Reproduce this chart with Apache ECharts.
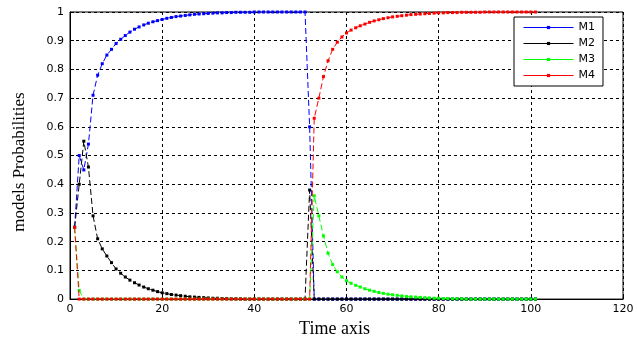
<!DOCTYPE html>
<html>
<head>
<meta charset="utf-8">
<script src="https://cdn.jsdelivr.net/npm/echarts@6/dist/echarts.min.js"></script>
<style>html,body{margin:0;padding:0;background:#fff;}#c{width:637px;height:343px;}</style>
</head>
<body>
<div id="c"></div>
<script>
var startTime = 1;
var xTicks = [0, 20, 40, 60, 80, 100, 120];
var yTicks = [0, 0.1, 0.2, 0.3, 0.4, 0.5, 0.6, 0.7, 0.8, 0.9, 1];
var seriesNames = ['M1', 'M2', 'M3', 'M4'];

var m1 = [0.25, 0.50, 0.45, 0.54, 0.71, 0.78, 0.82, 0.85, 0.87, 0.89,
  0.905, 0.918, 0.93, 0.94, 0.948, 0.955, 0.961, 0.966, 0.97, 0.974,
  0.978, 0.981, 0.984, 0.986, 0.988, 0.99, 0.992, 0.993, 0.994, 0.995,
  0.996, 0.997, 0.997, 0.998, 0.998, 0.999, 0.999, 0.999, 0.999, 1,
  1, 1, 1, 1, 1, 1, 1, 1, 1, 1,
  1, 0.6, 0, 0, 0, 0, 0, 0, 0, 0,
  0, 0, 0, 0, 0, 0, 0, 0, 0, 0,
  0, 0, 0, 0, 0, 0, 0, 0, 0, 0,
  0, 0, 0, 0, 0, 0, 0, 0, 0, 0,
  0, 0, 0, 0, 0, 0, 0, 0, 0, 0, 0];

var m2 = [0.25, 0.40, 0.55, 0.46, 0.29, 0.21, 0.175, 0.15, 0.127, 0.105,
  0.09, 0.077, 0.066, 0.057, 0.049, 0.042, 0.036, 0.031, 0.026, 0.022,
  0.019, 0.016, 0.014, 0.012, 0.01, 0.008, 0.007, 0.006, 0.005, 0.004,
  0.003, 0.003, 0.002, 0.002, 0.001, 0.001, 0.001, 0, 0, 0,
  0, 0, 0, 0, 0, 0, 0, 0, 0, 0,
  0, 0.38, 0, 0, 0, 0, 0, 0, 0, 0,
  0, 0, 0, 0, 0, 0, 0, 0, 0, 0,
  0, 0, 0, 0, 0, 0, 0, 0, 0, 0,
  0, 0, 0, 0, 0, 0, 0, 0, 0, 0,
  0, 0, 0, 0, 0, 0, 0, 0, 0, 0, 0];

var m3 = [0.25, 0.03, 0, 0, 0, 0, 0, 0, 0, 0,
  0, 0, 0, 0, 0, 0, 0, 0, 0, 0,
  0, 0, 0, 0, 0, 0, 0, 0, 0, 0,
  0, 0, 0, 0, 0, 0, 0, 0, 0, 0,
  0, 0, 0, 0, 0, 0, 0, 0, 0, 0,
  0, 0, 0.36, 0.29, 0.22, 0.16, 0.12, 0.095, 0.077, 0.064,
  0.055, 0.048, 0.042, 0.036, 0.031, 0.027, 0.023, 0.02, 0.017, 0.015,
  0.013, 0.011, 0.009, 0.008, 0.007, 0.006, 0.005, 0.004, 0.003, 0.003,
  0.002, 0.002, 0.001, 0.001, 0.001, 0, 0, 0, 0, 0,
  0, 0, 0, 0, 0, 0, 0, 0, 0, 0, 0];

var m4 = [0.25, 0, 0, 0, 0, 0, 0, 0, 0, 0,
  0, 0, 0, 0, 0, 0, 0, 0, 0, 0,
  0, 0, 0, 0, 0, 0, 0, 0, 0, 0,
  0, 0, 0, 0, 0, 0, 0, 0, 0, 0,
  0, 0, 0, 0, 0, 0, 0, 0, 0, 0,
  0, 0, 0.63, 0.70, 0.775, 0.83, 0.87, 0.895, 0.913, 0.927,
  0.937, 0.945, 0.952, 0.958, 0.964, 0.969, 0.973, 0.977, 0.98, 0.983,
  0.985, 0.987, 0.989, 0.991, 0.992, 0.993, 0.994, 0.995, 0.996, 0.997,
  0.997, 0.998, 0.998, 0.998, 0.999, 0.999, 0.999, 0.999, 0.999, 1,
  1, 1, 1, 1, 1, 1, 1, 1, 1, 1, 1];

var colors = ['#0000ff', '#000000', '#00ff00', '#ff0000'];
var values = [m1, m2, m3, m4];

function pairs(arr) {
  return arr.map(function (v, i) { return [startTime + i, v]; });
}

var chart = echarts.init(document.getElementById('c'), null, {renderer: 'canvas'});
var tickFont = {fontFamily: 'DejaVu Sans', fontSize: 11, color: '#000'};

chart.setOption({
  animation: false,
  backgroundColor: '#fff',
  grid: {left: 70, right: 14, top: 12, bottom: 43, show: true, borderColor: '#000', borderWidth: 1, backgroundColor: '#fff'},
  legend: {
    orient: 'vertical', left: 514, top: 17,
    data: seriesNames,
    backgroundColor: '#fff', borderColor: '#000', borderWidth: 1, borderRadius: 0,
    padding: [5, 8, 5, 9], itemGap: 5, itemWidth: 50, itemHeight: 4,
    textStyle: {fontFamily: 'DejaVu Sans', fontSize: 11, color: '#000'},
    lineStyle: {type: 'solid', width: 1}
  },
  xAxis: {
    type: 'value', min: xTicks[0], max: xTicks[xTicks.length - 1], interval: xTicks[1] - xTicks[0],
    name: 'Time axis', nameLocation: 'middle', nameGap: 15,
    nameTextStyle: {fontFamily: 'Liberation Serif', fontSize: 18, color: '#000', padding: [0, 24, 0, 0]},
    axisLine: {show: true, onZero: false, lineStyle: {color: '#000', width: 1}},
    axisTick: {show: true, inside: true, length: 4, lineStyle: {color: '#000'}},
    axisLabel: Object.assign({margin: 5}, tickFont),
    splitLine: {show: true, lineStyle: {color: '#000', type: [3, 3], width: 1}}
  },
  yAxis: {
    type: 'value', min: yTicks[0], max: yTicks[yTicks.length - 1], interval: 0.1,
    name: 'models Probabilities', nameLocation: 'middle', nameGap: 42, nameRotate: 90,
    nameTextStyle: {fontFamily: 'Liberation Serif', fontSize: 17, color: '#000', padding: [0, 13, 0, 0]},
    axisLine: {show: true, lineStyle: {color: '#000', width: 1}},
    axisTick: {show: true, inside: true, length: 4, lineStyle: {color: '#000'}},
    axisLabel: Object.assign({margin: 6}, tickFont),
    splitLine: {show: true, lineStyle: {color: '#000', type: [3, 3], width: 1}}
  },
  series: values.map(function (arr, k) {
    return {
      name: seriesNames[k], type: 'line', data: pairs(arr),
      symbol: 'rect', symbolSize: 3, showSymbol: true,
      color: colors[k],
      lineStyle: {color: colors[k], width: 1, type: [6, 3]},
      itemStyle: {color: colors[k]},
      z: 2 + k
    };
  })
});
</script>
</body>
</html>
